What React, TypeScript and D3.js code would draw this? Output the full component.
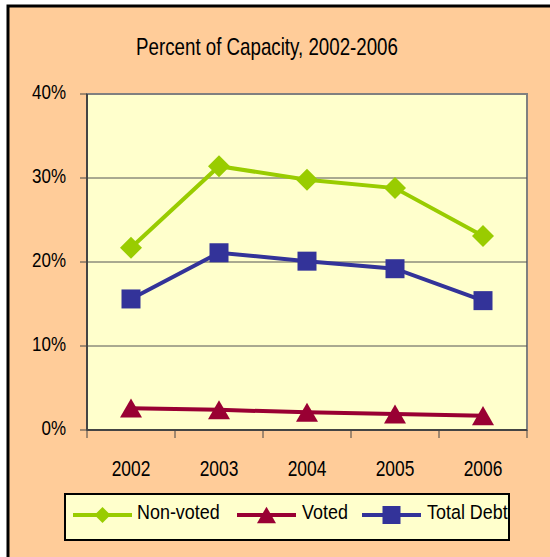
import React from "react";
import * as d3 from "d3";

const years = ["2002", "2003", "2004", "2005", "2006"];
const nonVoted = [21.7, 31.4, 29.8, 28.8, 23.1];
const voted = [2.6, 2.4, 2.1, 1.9, 1.7];
const totalDebt = [15.6, 21.1, 20.1, 19.2, 15.4];
const yTicks = [0, 10, 20, 30, 40];

const FONT = "'Liberation Sans', Arial, sans-serif";

const series = [
  { name: "Non-voted", values: nonVoted, color: "#99CC00", marker: "diamond" },
  { name: "Voted", values: voted, color: "#990033", marker: "triangle" },
  { name: "Total Debt", values: totalDebt, color: "#333399", marker: "square" },
];

// condensed text: the original uses a narrow font we don't have
const NText = ({ x, y, sx, size, anchor = "start", children }: any) => (
  <text transform={`translate(${x},${y}) scale(${sx},1)`} textAnchor={anchor} fontFamily={FONT} fontSize={size} fill="#000">
    {children}
  </text>
);

// size = full width of the marker in px
const Marker = ({ type, x, y, color, size }: { type: string; x: number; y: number; color: string; size: number }) => {
  const symType = type === "triangle" ? d3.symbolTriangle : d3.symbolSquare;
  const side = type === "diamond" ? size / Math.SQRT2 : size;
  const area = type === "triangle" ? (side * side * Math.sqrt(3)) / 4 : side * side;
  const path = d3.symbol().type(symType).size(area)() as string;
  const rot = type === "diamond" ? 45 : 0;
  const dy = type === "triangle" ? size * 0.14 : 0;
  return <path d={path} fill={color} transform={`translate(${x},${y + dy}) rotate(${rot})`} />;
};

export default function App() {
  const width = 550, height = 557;
  const left = 87, right = 527, top = 94, bottom = 430;

  const x = d3.scaleBand().domain(years).range([left, right]);
  const y = d3.scaleLinear().domain([0, 40]).range([bottom, top]);
  const cx = (yr: string) => (x(yr) as number) + x.bandwidth() / 2;
  const line = d3.line<number>()
    .x((_, i) => cx(years[i]))
    .y(d => y(d));

  const legendItems = [
    { lx: 73, tx: 137 },
    { lx: 237, tx: 302 },
    { lx: 362, tx: 427 },
  ];
  const plotSize: Record<string, number> = { diamond: 22, triangle: 22, square: 19 };
  const legSize: Record<string, number> = { diamond: 16, triangle: 19, square: 18 };

  return (
    <svg width={width} height={height} style={{ position: "absolute", left: 0, top: 0 }}>
      <rect x={0} y={0} width={width} height={height} fill="#ffffff" />
      <rect x={8} y={6} width={width + 10} height={height + 10} fill="#FFCC99" stroke="#000" strokeWidth={3} />
      <NText x={267} y={55} sx={0.78} size={24} anchor="middle">Percent of Capacity, 2002-2006</NText>

      <rect x={left} y={top} width={right - left} height={bottom - top} fill="#FFFFCC" stroke="#808080" strokeWidth={2} />
      {yTicks.filter(t => t > 0 && t < 40).map(t => (
        <line key={t} x1={left} x2={right} y1={y(t)} y2={y(t)} stroke="#555" strokeWidth={1} />
      ))}
      <line x1={left} x2={left} y1={top} y2={bottom} stroke="#444" strokeWidth={2} />
      <line x1={left} x2={right} y1={bottom} y2={bottom} stroke="#444" strokeWidth={2} />
      {yTicks.map(t => (
        <g key={t}>
          <line x1={left - 7} x2={left} y1={y(t)} y2={y(t)} stroke="#444" strokeWidth={1} />
          <NText x={66} y={y(t) + 5} sx={0.87} size={19.5} anchor="end">{t}%</NText>
        </g>
      ))}
      {[...years.map(yr => x(yr) as number), right].map((px, i) => (
        <line key={i} x1={px} x2={px} y1={bottom} y2={bottom + 8} stroke="#444" strokeWidth={1} />
      ))}
      {years.map(yr => (
        <NText key={yr} x={cx(yr)} y={476} sx={0.79} size={22} anchor="middle">{yr}</NText>
      ))}

      {series.map(s => (
        <g key={s.name}>
          <path d={line(s.values) as string} fill="none" stroke={s.color} strokeWidth={4} />
          {s.values.map((v, i) => (
            <Marker key={i} type={s.marker} x={cx(years[i])} y={y(v)} color={s.color} size={plotSize[s.marker]} />
          ))}
        </g>
      ))}

      <rect x={65} y={494} width={444} height={46} fill="#FFFFCC" stroke="#000" strokeWidth={2} />
      {series.map((s, i) => (
        <g key={s.name}>
          <line x1={legendItems[i].lx} x2={legendItems[i].lx + 59} y1={515} y2={515} stroke={s.color} strokeWidth={4} />
          <Marker type={s.marker} x={legendItems[i].lx + 29.5} y={515} color={s.color} size={legSize[s.marker]} />
          <NText x={legendItems[i].tx} y={519} sx={0.92} size={19.5}>{s.name}</NText>
        </g>
      ))}
    </svg>
  );
}
